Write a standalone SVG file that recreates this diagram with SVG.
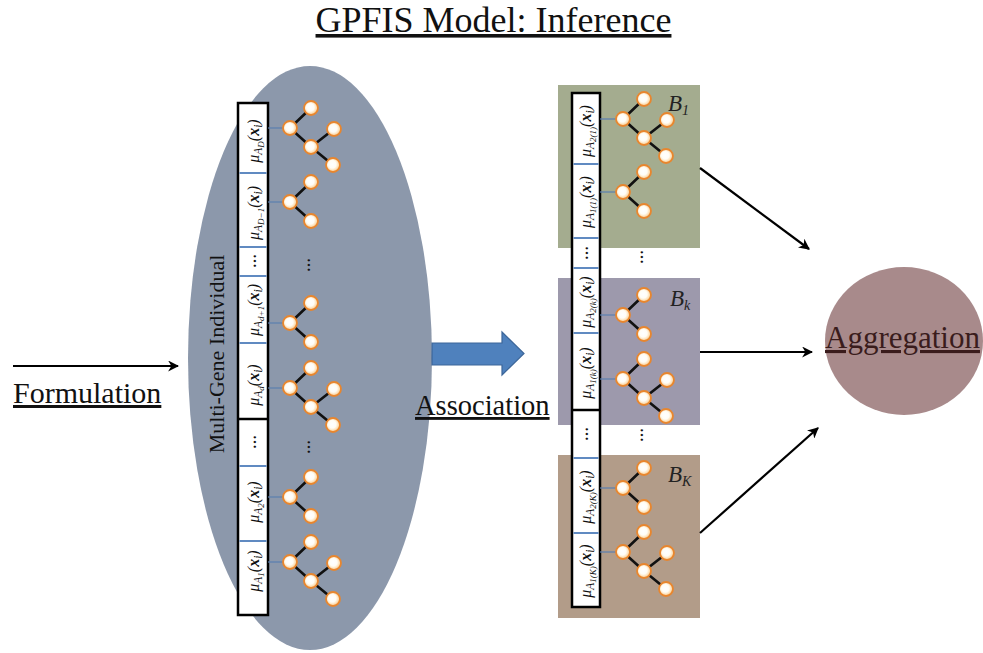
<svg xmlns="http://www.w3.org/2000/svg" xmlns:xlink="http://www.w3.org/1999/xlink" width="983" height="653" viewBox="0 0 983 653">
<style>
.lbl{font-family:"Liberation Serif","Times New Roman",serif;fill:#111}
.mu{font-family:"Liberation Serif","Times New Roman",serif;font-style:italic;font-size:16px;fill:#111;text-anchor:middle}
.s1{font-size:11.5px}
.s2{font-size:9px}
.bx{font-weight:bold}
.dots{font-family:"Liberation Serif","Times New Roman",serif;font-size:14px;font-weight:bold;fill:#111;text-anchor:middle}
.col{fill:#fff;stroke:#000;stroke-width:2.5}
.sep{stroke:#4F7DBA;stroke-width:1.8}
.blk{stroke:#000;stroke-width:2.5}
.lnk{stroke:#5A7FB0;stroke-width:1.2}
.edge{stroke:#111;stroke-width:2.6;stroke-linecap:round;fill:none}
.nd{fill:url(#ng);stroke:#E8862E;stroke-width:1.8}
.arr{stroke:#000;stroke-width:2.2;fill:none;marker-end:url(#ah)}
.bl{font-family:"Liberation Serif","Times New Roman",serif;font-style:italic;font-size:23px;fill:#222}
</style>
<defs>
<radialGradient id="ng" cx="0.45" cy="0.45" r="0.6">
<stop offset="0" stop-color="#FFFFFF"/>
<stop offset="0.45" stop-color="#FFFDF6"/>
<stop offset="0.75" stop-color="#FCDCAE"/>
<stop offset="1" stop-color="#F29B45"/>
</radialGradient>
<marker id="ah" viewBox="0 0 10 10" refX="9" refY="5" markerWidth="11" markerHeight="11" markerUnits="userSpaceOnUse" orient="auto">
<path d="M0,0 L10,5 L0,10 L3,5 Z" fill="#000"/>
</marker>
<g id="tree3">
<path class="edge" d="M0,0 L21,-20 M0,0 L21,19 L44,1 M21,19 L43,37"/>
<circle class="nd" cx="0" cy="0" r="7"/>
<circle class="nd" cx="21" cy="-20" r="7"/>
<circle class="nd" cx="44" cy="1" r="7"/>
<circle class="nd" cx="21" cy="19" r="7"/>
<circle class="nd" cx="43" cy="37" r="7"/>
</g>
<g id="tree2">
<path class="edge" d="M0,0 L21,-20 M0,0 L21,19"/>
<circle class="nd" cx="0" cy="0" r="7"/>
<circle class="nd" cx="21" cy="-20" r="7"/>
<circle class="nd" cx="21" cy="19" r="7"/>
</g>
</defs>
<rect width="983" height="653" fill="#fff"/>

<text class="lbl" x="493.5" y="32" font-size="36" text-anchor="middle" text-decoration="underline">GPFIS Model: Inference</text>

<!-- Multi-gene individual -->
<g id="individual">
<ellipse cx="310" cy="358" rx="122" ry="292" fill="#8C98AB"/>
<text class="lbl" font-size="22" text-anchor="middle" transform="translate(224,354) rotate(-90)">Multi-Gene Individual</text>
<rect class="col" x="238" y="103" width="30" height="512"/>
<line class="sep" x1="239.5" y1="173" x2="266.5" y2="173"/>
<line class="sep" x1="239.5" y1="247" x2="266.5" y2="247"/>
<line class="sep" x1="239.5" y1="276" x2="266.5" y2="276"/>
<line class="sep" x1="239.5" y1="343" x2="266.5" y2="343"/>
<line class="blk" x1="238" y1="419" x2="268" y2="419"/>
<line class="sep" x1="239.5" y1="466" x2="266.5" y2="466"/>
<line class="sep" x1="239.5" y1="541" x2="266.5" y2="541"/>
<text class="mu" transform="translate(258.5,141) rotate(-90)">μ<tspan class="s1" dy="3">A</tspan><tspan class="s2" dy="2">D</tspan><tspan dy="-5">(</tspan><tspan class="bx">x</tspan><tspan class="s1" dy="3">i</tspan><tspan dy="-3">)</tspan></text>
<text class="mu" transform="translate(258.5,213) rotate(-90)">μ<tspan class="s1" dy="3">A</tspan><tspan class="s2" dy="2">D−1</tspan><tspan dy="-5">(</tspan><tspan class="bx">x</tspan><tspan class="s1" dy="3">i</tspan><tspan dy="-3">)</tspan></text>
<text class="dots" transform="translate(256,261) rotate(-90)">…</text>
<text class="mu" transform="translate(258.5,310) rotate(-90)">μ<tspan class="s1" dy="3">A</tspan><tspan class="s2" dy="2">d+1</tspan><tspan dy="-5">(</tspan><tspan class="bx">x</tspan><tspan class="s1" dy="3">i</tspan><tspan dy="-3">)</tspan></text>
<text class="mu" transform="translate(258.5,385) rotate(-90)">μ<tspan class="s1" dy="3">A</tspan><tspan class="s2" dy="2">d</tspan><tspan dy="-5">(</tspan><tspan class="bx">x</tspan><tspan class="s1" dy="3">i</tspan><tspan dy="-3">)</tspan></text>
<text class="dots" transform="translate(256,442) rotate(-90)">…</text>
<text class="mu" transform="translate(258.5,502) rotate(-90)">μ<tspan class="s1" dy="3">A</tspan><tspan class="s2" dy="2">2</tspan><tspan dy="-5">(</tspan><tspan class="bx">x</tspan><tspan class="s1" dy="3">i</tspan><tspan dy="-3">)</tspan></text>
<text class="mu" transform="translate(258.5,571) rotate(-90)">μ<tspan class="s1" dy="3">A</tspan><tspan class="s2" dy="2">1</tspan><tspan dy="-5">(</tspan><tspan class="bx">x</tspan><tspan class="s1" dy="3">i</tspan><tspan dy="-3">)</tspan></text>
<g>
<line class="lnk" x1="268" y1="128" x2="284" y2="128"/>
<line class="lnk" x1="268" y1="202" x2="284" y2="202"/>
<line class="lnk" x1="268" y1="323" x2="284" y2="323"/>
<line class="lnk" x1="268" y1="388" x2="284" y2="388"/>
<line class="lnk" x1="268" y1="497" x2="284" y2="497"/>
<line class="lnk" x1="268" y1="562" x2="284" y2="562"/>
</g>
<use xlink:href="#tree3" transform="translate(290,128)"/>
<use xlink:href="#tree2" transform="translate(290,202)"/>
<text class="dots" transform="translate(310,265) rotate(-90)">…</text>
<use xlink:href="#tree2" transform="translate(290,323)"/>
<use xlink:href="#tree3" transform="translate(290,388)"/>
<text class="dots" transform="translate(310,447) rotate(-90)">…</text>
<use xlink:href="#tree2" transform="translate(290,497)"/>
<use xlink:href="#tree3" transform="translate(290,562)"/>
</g>

<!-- Association block arrow -->
<g id="association">
<path d="M432,343 H502 V332 L524,353.5 L502,375 V365 H432 Z" fill="#4F81BD" stroke="#3C6699" stroke-width="1.2"/>
<text class="lbl" x="415" y="415" font-size="28.5" text-decoration="underline">Association</text>
</g>

<!-- Rule bases -->
<g id="B1">
<rect x="558" y="85" width="142" height="163" fill="#A4AC8F"/>
<text class="bl" x="668" y="111">B<tspan font-size="14" dy="4">1</tspan></text>
</g>
<g id="Bk">
<rect x="558" y="278" width="142" height="147" fill="#9D99AC"/>
<text class="bl" x="670" y="306">B<tspan font-size="14" dy="4">k</tspan></text>
</g>
<g id="BK">
<rect x="558" y="455" width="142" height="163" fill="#B29C89"/>
<text class="bl" x="668" y="482">B<tspan font-size="14" dy="4">K</tspan></text>
</g>

<g id="rule-column">
<rect class="col" x="572" y="93" width="28" height="514"/>
<line class="sep" x1="573.5" y1="164" x2="598.5" y2="164"/>
<line class="sep" x1="573.5" y1="238" x2="598.5" y2="238"/>
<line class="sep" x1="573.5" y1="268" x2="598.5" y2="268"/>
<line class="sep" x1="573.5" y1="333" x2="598.5" y2="333"/>
<line class="blk" x1="572" y1="410" x2="600" y2="410"/>
<line class="sep" x1="573.5" y1="458" x2="598.5" y2="458"/>
<line class="sep" x1="573.5" y1="533" x2="598.5" y2="533"/>
<text class="mu" transform="translate(591,131) rotate(-90)">μ<tspan class="s1" dy="3">A</tspan><tspan class="s2" dy="2">2(1)</tspan><tspan dy="-5">(</tspan><tspan class="bx">x</tspan><tspan class="s1" dy="3">i</tspan><tspan dy="-3">)</tspan></text>
<text class="mu" transform="translate(591,202) rotate(-90)">μ<tspan class="s1" dy="3">A</tspan><tspan class="s2" dy="2">1(1)</tspan><tspan dy="-5">(</tspan><tspan class="bx">x</tspan><tspan class="s1" dy="3">i</tspan><tspan dy="-3">)</tspan></text>
<text class="dots" transform="translate(588,253) rotate(-90)">…</text>
<text class="mu" transform="translate(591,302) rotate(-90)">μ<tspan class="s1" dy="3">A</tspan><tspan class="s2" dy="2">2(k)</tspan><tspan dy="-5">(</tspan><tspan class="bx">x</tspan><tspan class="s1" dy="3">i</tspan><tspan dy="-3">)</tspan></text>
<text class="mu" transform="translate(591,373) rotate(-90)">μ<tspan class="s1" dy="3">A</tspan><tspan class="s2" dy="2">1(k)</tspan><tspan dy="-5">(</tspan><tspan class="bx">x</tspan><tspan class="s1" dy="3">i</tspan><tspan dy="-3">)</tspan></text>
<text class="dots" transform="translate(588,434) rotate(-90)">…</text>
<text class="mu" transform="translate(591,497) rotate(-90)">μ<tspan class="s1" dy="3">A</tspan><tspan class="s2" dy="2">2(K)</tspan><tspan dy="-5">(</tspan><tspan class="bx">x</tspan><tspan class="s1" dy="3">i</tspan><tspan dy="-3">)</tspan></text>
<text class="mu" transform="translate(591,571) rotate(-90)">μ<tspan class="s1" dy="3">A</tspan><tspan class="s2" dy="2">1(K)</tspan><tspan dy="-5">(</tspan><tspan class="bx">x</tspan><tspan class="s1" dy="3">i</tspan><tspan dy="-3">)</tspan></text>
<g>
<line class="lnk" x1="600" y1="119" x2="617" y2="119"/>
<line class="lnk" x1="600" y1="192" x2="617" y2="192"/>
<line class="lnk" x1="600" y1="315" x2="617" y2="315"/>
<line class="lnk" x1="600" y1="379" x2="617" y2="379"/>
<line class="lnk" x1="600" y1="488" x2="617" y2="488"/>
<line class="lnk" x1="600" y1="552" x2="617" y2="552"/>
</g>
<use xlink:href="#tree3" transform="translate(623,119)"/>
<use xlink:href="#tree2" transform="translate(623,192)"/>
<text class="dots" transform="translate(643,257) rotate(-90)">…</text>
<use xlink:href="#tree2" transform="translate(623,315)"/>
<use xlink:href="#tree3" transform="translate(623,379)"/>
<text class="dots" transform="translate(643,435) rotate(-90)">…</text>
<use xlink:href="#tree2" transform="translate(623,488)"/>
<use xlink:href="#tree3" transform="translate(623,552)"/>
</g>

<!-- Aggregation -->
<g id="aggregation">
<ellipse cx="904" cy="341" rx="79" ry="74" fill="#A88A8B"/>
<text class="lbl" x="825" y="348" font-size="31" style="fill:#3A1C1C" text-decoration="underline">Aggregation</text>
</g>

<!-- Formulation -->
<g id="formulation">
<text class="lbl" x="13" y="403" font-size="30" text-decoration="underline">Formulation</text>
</g>

<g id="connectors">
<line class="arr" x1="13" y1="366" x2="178" y2="366"/>
<line class="arr" x1="700" y1="168" x2="809" y2="249"/>
<line class="arr" x1="700" y1="352" x2="812" y2="352"/>
<line class="arr" x1="700" y1="533" x2="818" y2="428"/>
</g>
</svg>
